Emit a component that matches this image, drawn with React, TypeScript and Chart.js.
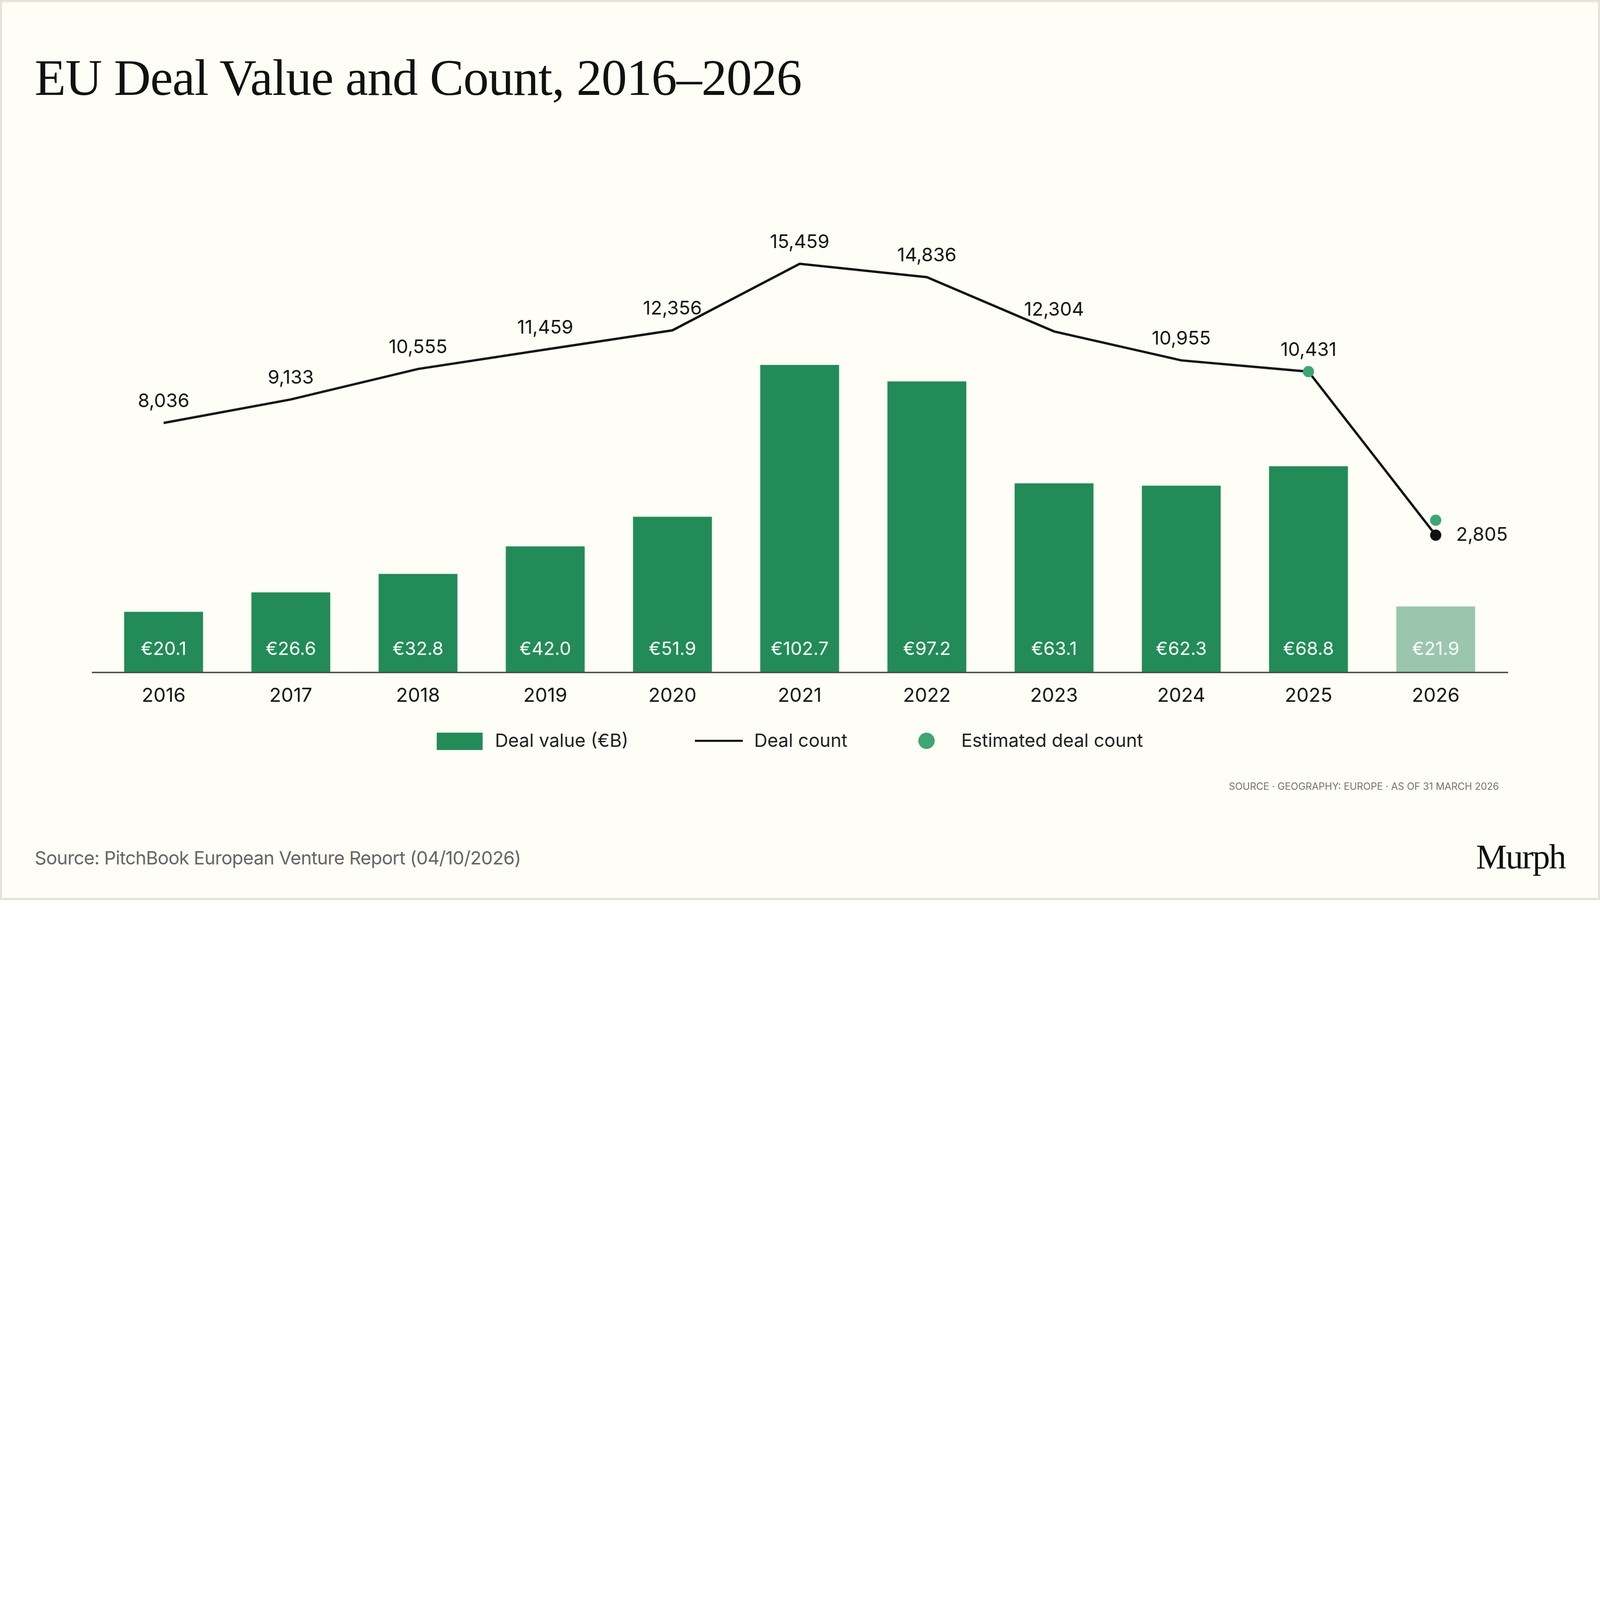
import React, { useEffect, useRef } from "react";
import { Chart, registerables } from "chart.js";
Chart.register(...registerables);

const years = ["2016","2017","2018","2019","2020","2021","2022","2023","2024","2025","2026"];
const dealValue = [20.1, 26.6, 32.8, 42.0, 51.9, 102.7, 97.2, 63.1, 62.3, 68.8, 21.9];
const dealCount = [8036, 9133, 10555, 11459, 12356, 15459, 14836, 12304, 10955, 10431, 2805];
const estimatedCount = [null, null, null, null, null, null, null, null, null, 10431, 3500];

const SANS = "Inter, 'Noto Sans', sans-serif";
const SERIF = "'Liberation Serif', 'DejaVu Serif', serif";
const GREEN = "#228b57";
const LIGHT = "#9bc6ae";
const DOT = "#3fa574";

const labelPlugin = {
  id: "labels",
  afterDatasetsDraw(chart: any) {
    const ctx = chart.ctx;
    const bars = chart.getDatasetMeta(0).data;
    const pts = chart.getDatasetMeta(1).data;
    const xs = chart.scales.x;
    ctx.save();
    ctx.strokeStyle = "#333";
    ctx.lineWidth = 1.2;
    ctx.beginPath();
    ctx.moveTo(xs.left - 8, chart.chartArea.bottom + 0.5);
    ctx.lineTo(xs.right + 9, chart.chartArea.bottom + 0.5);
    ctx.stroke();
    ctx.font = `18px ${SANS}`;
    ctx.textBaseline = "middle";
    ctx.textAlign = "center";
    bars.forEach((b: any, i: number) => {
      ctx.fillStyle = "#ffffff";
      ctx.fillText("€" + dealValue[i].toFixed(1), b.x, chart.chartArea.bottom - 22);
    });
    ctx.font = `18.5px ${SANS}`;
    pts.forEach((p: any, i: number) => {
      ctx.fillStyle = "#111";
      const t = dealCount[i].toLocaleString("en-US");
      if (i === pts.length - 1) {
        ctx.textAlign = "left";
        ctx.fillText(t, p.x + 20, p.y);
        ctx.textAlign = "center";
      } else {
        ctx.fillText(t, p.x, p.y - 21);
      }
    });
    ctx.restore();
  },
};

export default function App() {
  const ref = useRef<HTMLCanvasElement>(null);
  const S = (typeof window !== "undefined" ? window.innerWidth : 7680) / 1568;
  useEffect(() => {
    const chart = new Chart(ref.current!, {
      type: "bar",
      data: {
        labels: years,
        datasets: [
          {
            type: "bar",
            label: "Deal value (€B)",
            data: dealValue,
            backgroundColor: dealValue.map((_, i) => (i === dealValue.length - 1 ? LIGHT : GREEN)),
            barPercentage: 0.62,
            categoryPercentage: 1,
            yAxisID: "y",
            order: 3,
          },
          {
            type: "line",
            label: "Deal count",
            data: dealCount,
            borderColor: "#111",
            borderWidth: 2.3,
            pointRadius: dealCount.map((_, i) => (i === dealCount.length - 1 ? 5.5 : 0)),
            pointBackgroundColor: "#111",
            pointBorderWidth: 0,
            yAxisID: "y2",
            order: 2,
          },
          {
            type: "line",
            label: "Estimated deal count",
            data: estimatedCount,
            showLine: false,
            pointRadius: 5.5,
            pointBackgroundColor: DOT,
            pointBorderWidth: 0,
            yAxisID: "y2",
            order: 1,
          },
        ] as any,
      },
      options: {
        animation: false,
        responsive: false,
        devicePixelRatio: S * (window.devicePixelRatio || 1),
        layout: { padding: { left: 8, right: 9, top: 0, bottom: 0 } },
        plugins: { legend: { display: false }, tooltip: { enabled: false } },
        scales: {
          x: {
            grid: { display: false, drawTicks: false },
            border: { display: false },
            ticks: { color: "#111", font: { family: SANS, size: 19 }, padding: 12 },
          },
          y: { display: false, min: 0, max: 171.7 },
          y2: { display: false, min: -3574, max: 20360 },
        },
      },
      plugins: [labelPlugin],
    });
    return () => chart.destroy();
  }, []);

  const legendText: React.CSSProperties = { position: "absolute", top: 713, fontFamily: SANS, fontSize: 18, color: "#222", lineHeight: "22px" };
  return (
    <div style={{ position: "fixed", left: 0, top: 0, width: 1568, height: 882, transform: `scale(${S})`, transformOrigin: "0 0", background: "#fefef6", boxSizing: "border-box", border: "2px solid #e3e3d9", overflow: "hidden" }}>
      <div style={{ position: "absolute", left: 32, top: 44, fontFamily: SERIF, fontSize: 50, color: "#111", lineHeight: "60px", letterSpacing: -0.5 }}>
        EU Deal Value and Count, 2016–2026
      </div>
      <canvas ref={ref} width={1388} height={555} style={{ position: "absolute", left: 88, top: 148, width: 1388, height: 555 }} />
      <div style={{ position: "absolute", left: 426, top: 716, width: 45, height: 17, background: GREEN }} />
      <div style={{ ...legendText, left: 483 }}>Deal value (€B)</div>
      <div style={{ position: "absolute", left: 679, top: 723, width: 47, height: 2, background: "#111" }} />
      <div style={{ ...legendText, left: 737 }}>Deal count</div>
      <div style={{ position: "absolute", left: 898, top: 716, width: 16, height: 16, borderRadius: 8, background: DOT }} />
      <div style={{ ...legendText, left: 940 }}>Estimated deal count</div>
      <div style={{ position: "absolute", right: 97, top: 763, fontFamily: SANS, fontSize: 9.6, color: "#77776d" }}>
        SOURCE · GEOGRAPHY: EUROPE · AS OF 31 MARCH 2026
      </div>
      <div style={{ position: "absolute", left: 32, top: 827, fontFamily: SANS, fontSize: 18, color: "#666", lineHeight: "24px", letterSpacing: -0.3 }}>
        Source: PitchBook European Venture Report (04/10/2026)
      </div>
      <div style={{ position: "absolute", right: 32, top: 818, fontFamily: SERIF, fontSize: 34, color: "#111", lineHeight: "40px", letterSpacing: -1 }}>
        Murph
      </div>
    </div>
  );
}
